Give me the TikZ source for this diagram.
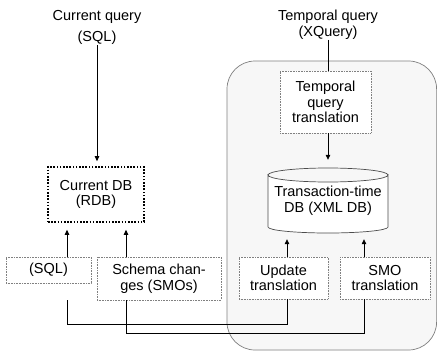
\documentclass[tikz,border=0pt]{standalone}
\usepackage{fontspec}
\setmainfont{Liberation Sans}
\usetikzlibrary{arrows.meta,calc}
\begin{document}
\begin{tikzpicture}[x=1pt,y=-1pt,
  every node/.style={font=\fontsize{14.5}{15.5}\selectfont, align=center, inner sep=0pt},
  dotbox/.style={draw=gray, line width=0.6pt, dash pattern=on 0.8pt off 0.8pt, fill=white},
  dbbox/.style={draw=black, line width=1.6pt, dash pattern=on 1.6pt off 1.6pt, fill=white},
  conn/.style={draw=black, line width=0.7pt},
  arr/.style={conn, -{Triangle[length=5pt,width=4.5pt]}},
  lbl/.style={}]
\useasboundingbox (0,0) rectangle (437,351);
\fill[white] (0,0) rectangle (437,351);
% container
\draw[draw=gray, line width=0.7pt, fill=black!3, rounded corners=28pt] (227,61) rectangle (436.6,350);
% labels
\node[lbl] (cq) at (97,17) {Current query};
\node[lbl] (cqs) at (97,38) {(SQL)};
\node[lbl] (tq) at (328,17) {Temporal query};
\node[lbl] (tqx) at (328,33) {(XQuery)};
% boxes
\node[dbbox, minimum width=96pt, minimum height=55pt] (curdb) at (96,194.5) {Current DB\\(RDB)};
\node[dotbox, minimum width=85pt, minimum height=26pt] (sql) at (48.5,270) {(SQL)};
\node[dotbox, minimum width=124pt, minimum height=43pt] (schema) at (159,278.5) {Schema chan-\\ges (SMOs)};
\node[dotbox, minimum width=89pt, minimum height=42pt] (update) at (283.5,278) {Update\\translation};
\node[dotbox, minimum width=90pt, minimum height=42pt] (smo) at (385,278) {SMO\\translation};
\node[dotbox, minimum width=91pt, minimum height=62pt] (tqt) at (325.5,102) {Temporal\\query\\translation};
% cylinder
\draw[draw=black!70, line width=0.7pt, fill=white] (268,175) -- (268,227) arc[start angle=180, end angle=0, x radius=60, y radius=6] -- (388,175) arc[start angle=0, end angle=180, x radius=60, y radius=7] -- cycle;
\draw[draw=black!70, line width=0.7pt] (268,175) arc[start angle=180, end angle=360, x radius=60, y radius=7];
\node[minimum width=120pt, minimum height=65pt] (db) at (328,200.5) {Transaction-time\\DB (XML DB)};
% connectors
\draw[arr, shorten >=5pt] (cqs.south) -- (cqs.south |- curdb.north);
\draw[conn] (tqx.south) -- (tqx.south |- tqt.north);
\draw[arr, shorten >=8pt] (tqt.south -| db.north) -- (db.north);
\coordinate (sqlcor) at (67,0);
\coordinate (schcor) at (126,0);
\coordinate (updcor) at (287,0);
\coordinate (smocor) at (364,0);
\draw[arr, shorten >=7pt] (sqlcor |- sql.north) -- (sqlcor |- curdb.south);
\draw[arr, shorten >=7pt] (schcor |- schema.north) -- (schcor |- curdb.south);
\draw[arr, shorten >=6pt] (updcor |- update.north) -- (updcor |- db.south);
\draw[arr, shorten >=6pt] (smocor |- smo.north) -- (smocor |- db.south);
\coordinate (sqlout) at (sqlcor |- schema.south);
\draw[conn] (sqlout) -- ++(0,24) -| (updcor |- update.south);
\draw[conn] (schcor |- schema.south) -- ++(0,33) -| (smocor |- smo.south);
\end{tikzpicture}
\end{document}
